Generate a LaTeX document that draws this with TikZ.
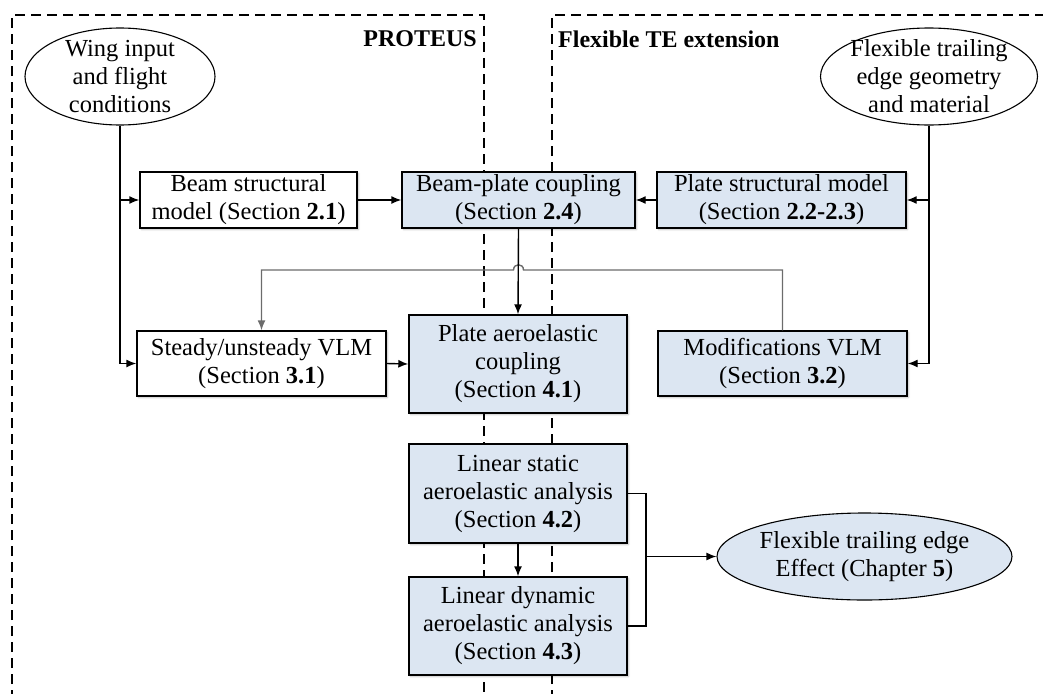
\documentclass[tikz,border=0pt]{standalone}
\usepackage{fontspec}
\setmainfont{Liberation Serif}
\usetikzlibrary{arrows.meta,shapes.geometric,shadows.blur}
\definecolor{boxblue}{HTML}{DCE6F2}
\begin{document}
\begin{tikzpicture}[x=1pt,y=-1pt,
  every node/.style={font=\fontsize{24.5}{28}\selectfont},
  blk/.style={draw=black,line width=1.4pt,align=center,inner sep=0pt,
    blur shadow={shadow xshift=1.5pt,shadow yshift=-1.5pt,shadow blur steps=5,shadow opacity=25}},
  whitebox/.style={blk,fill=white},
  bluebox/.style={blk,fill=boxblue},
  oval/.style={ellipse,draw=black,line width=1.1pt,align=center,inner sep=-25pt},
  conn/.style={line width=1.4pt,-{Latex[length=10pt,width=8pt]}},
  plain/.style={line width=1.4pt},
  grayconn/.style={line width=1.4pt,draw=gray!85!black},
  region/.style={dash pattern=on 10pt off 6pt,line width=1.4pt},
  heading/.style={font=\fontsize{24}{28}\selectfont\bfseries,inner sep=0pt}]
\useasboundingbox (0,0) rectangle (1043,693);
\clip (0,0) rectangle (1043,693);
% regions
\draw[region] (12,700) -- (12,15) -- (484,15) -- (484,700);
\draw[region] (552,700) -- (552,15) -- (1050,15);
\node[heading,anchor=east] (proteus) at (477,39) {PROTEUS};
\node[heading,anchor=west] (fte) at (558,39) {Flexible TE extension};
% inputs
\node[oval,minimum width=190pt,minimum height=97pt] (wing) at (120,76.5)
  {Wing input\\and flight\\conditions};
\node[oval,minimum width=217pt,minimum height=97pt] (flex) at (929,76.5)
  {Flexible trailing\\edge geometry\\and material};
% row 1
\node[whitebox,minimum width=217pt,minimum height=56pt] (beam) at (248.5,200)
  {Beam structural\\model (Section \textbf{2.1})};
\node[bluebox,minimum width=233pt,minimum height=56pt] (bpc) at (518.5,200)
  {Beam-plate coupling\\(Section \textbf{2.4})};
\node[bluebox,minimum width=249pt,minimum height=56pt] (psm) at (781.5,200)
  {Plate structural model\\(Section \textbf{2.2-2.3})};
% row 2
\node[whitebox,minimum width=249pt,minimum height=65pt] (vlm) at (261.5,363.5)
  {Steady/unsteady VLM\\(Section \textbf{3.1})};
\node[bluebox,minimum width=218pt,minimum height=98pt] (pac) at (518,364)
  {Plate aeroelastic\\coupling\\(Section \textbf{4.1})};
\node[bluebox,minimum width=249pt,minimum height=65pt] (mod) at (782.5,363.5)
  {Modifications VLM\\(Section \textbf{3.2})};
% analyses
\node[bluebox,minimum width=218pt,minimum height=99pt] (lsa) at (518,493.5)
  {Linear static\\aeroelastic analysis\\(Section \textbf{4.2})};
\node[bluebox,minimum width=218pt,minimum height=98pt] (lda) at (518,626)
  {Linear dynamic\\aeroelastic analysis\\(Section \textbf{4.3})};
\node[oval,fill=boxblue,minimum width=295pt,minimum height=87pt] (eff) at (864.5,556.5)
  {Flexible trailing edge\\Effect (Chapter \textbf{5})};
% helper coordinates
\coordinate (hy) at (0,270);
\coordinate (jx) at (646,557);
% connectors
\draw[conn] (wing.south) |- (vlm.west);
\draw[conn] (wing.south |- beam.west) -- (beam.west);
\draw[conn] (beam.east) -- (bpc.west);
\draw[conn] (psm.west) -- (bpc.east);
\draw[conn] (flex.south) |- (mod.east);
\draw[conn] (flex.south |- psm.east) -- (psm.east);
\draw[grayconn,-{Latex[length=10pt,width=8pt]}] (mod.north) -- (mod.north |- hy)
  -- ([xshift=5pt]bpc.south |- hy) .. controls +(0,7pt) and +(0,7pt) .. ([xshift=-5pt]bpc.south |- hy)
  -- (vlm.north |- hy) -- (vlm.north);
\draw[conn] (bpc.south) -- (pac.north);
\draw[conn] (vlm.east) -- (pac.west);
\draw[conn] (lsa.south) -- (lda.north);
\draw[plain] (lsa.east) -- (lsa.east -| jx) -- (lda.east -| jx) -- (lda.east);
\draw[conn] (jx |- eff.west) -- (eff.west);
\end{tikzpicture}
\end{document}
